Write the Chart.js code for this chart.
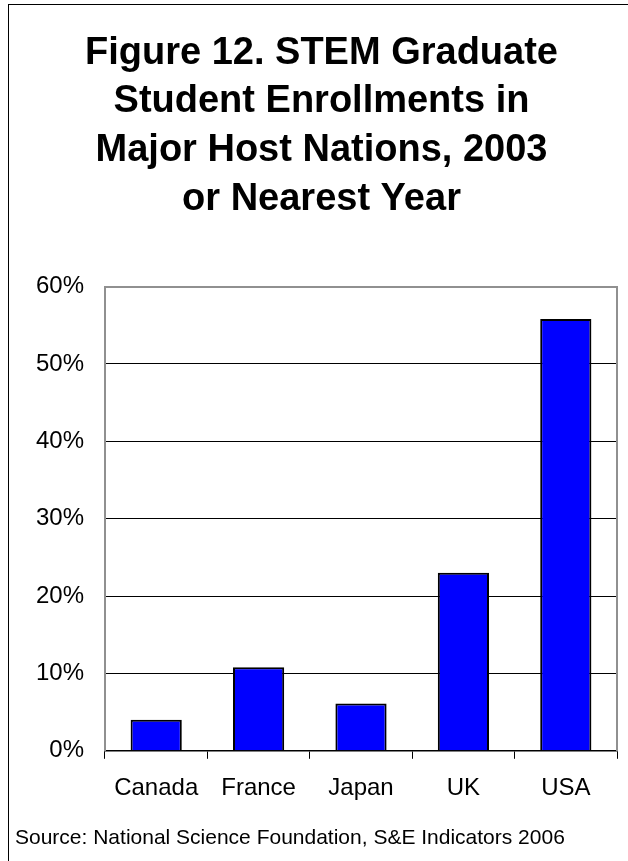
<!DOCTYPE html>
<html>
<head>
<meta charset="utf-8">
<script src="https://cdn.jsdelivr.net/npm/chart.js@4.4.0/dist/chart.umd.min.js"></script>
<style>
    body { margin: 0; background: #fff; overflow: hidden; }
    #moldura { position: absolute; left: 8px; top: 4px; width: 700px; height: 950px; border: 1.5px solid #000; }
    #area { position: absolute; left: 0; top: 0; width: 628px; height: 861px; }
</style>
</head>
<body>
<div id="moldura"></div>
<div id="area"><canvas id="stemChart" width="628" height="861"></canvas></div>
<script>
var paises = ["Canada", "France", "Japan", "UK", "USA"]
var matriculas = [4.0, 10.8, 6.1, 23.0, 55.8]
var ticksY = [0, 10, 20, 30, 40, 50, 60]
var titulo = ["Figure 12. STEM Graduate", "Student Enrollments in", "Major Host Nations, 2003", "or Nearest Year"]
var fonte = "Source: National Science Foundation, S&E Indicators 2006"

var familia = "'Liberation Sans', Arial, sans-serif"

var canvas = document.getElementById("stemChart")

var stemChart = new Chart(canvas, {
    type: 'bar',
    data: {
        labels: paises,
        datasets: [{
            data: matriculas,
            backgroundColor: '#0000FF',
            borderColor: '#000000',
            borderWidth: 2,
            categoryPercentage: 0.5,
            barPercentage: 1,
        }],
    },
    options: {
        responsive: false,
        animation: false,
        layout: {
            padding: { left: 15, right: 0, top: 0, bottom: 0 }
        },
        plugins: {
            legend: { display: false },
            tooltip: { enabled: false },
            title: {
                display: true,
                text: titulo,
                color: '#000',
                font: { family: familia, size: 38, weight: 'bold', lineHeight: 1.28 },
                padding: { top: 29, bottom: 63 },
            },
            subtitle: {
                display: true,
                text: fonte,
                position: 'bottom',
                align: 'start',
                color: '#000',
                font: { family: familia, size: 21, lineHeight: 1.2 },
                padding: { top: 0, bottom: 10 },
            },
        },
        scales: {
            x: {
                grid: {
                    offset: true,
                    drawOnChartArea: false,
                    drawTicks: true,
                    tickLength: 8,
                    color: '#000',
                },
                border: { color: '#000', width: 1.5 },
                ticks: {
                    color: '#000',
                    padding: 15,
                    font: { family: familia, size: 24 },
                },
                afterFit: function (escala) { escala.height = 75 },
            },
            y: {
                min: 0,
                max: 60,
                afterBuildTicks: function (escala) {
                    escala.ticks = ticksY.map(v => ({ value: v }))
                },
                grid: {
                    drawTicks: false,
                    tickLength: 0,
                    color: function (ctx) {
                        return ctx.tick && ctx.tick.value == 60 ? '#909090' : '#000'
                    },
                    lineWidth: function (ctx) {
                        return ctx.tick && ctx.tick.value == 60 ? 2 : 1
                    },
                },
                border: { color: '#909090', width: 2 },
                ticks: {
                    color: '#000',
                    padding: 21,
                    font: { family: familia, size: 24 },
                    callback: function (valor) { return valor + '%' },
                },
                afterFit: function (escala) { escala.width = 90 },
            },
            direita: {
                position: 'right',
                min: 0,
                max: 60,
                grid: { drawOnChartArea: false, drawTicks: false },
                border: { color: '#909090', width: 2 },
                ticks: { display: false },
                afterFit: function (escala) { escala.width = 11 },
            },
        },
    },
})
</script>
</body>
</html>
